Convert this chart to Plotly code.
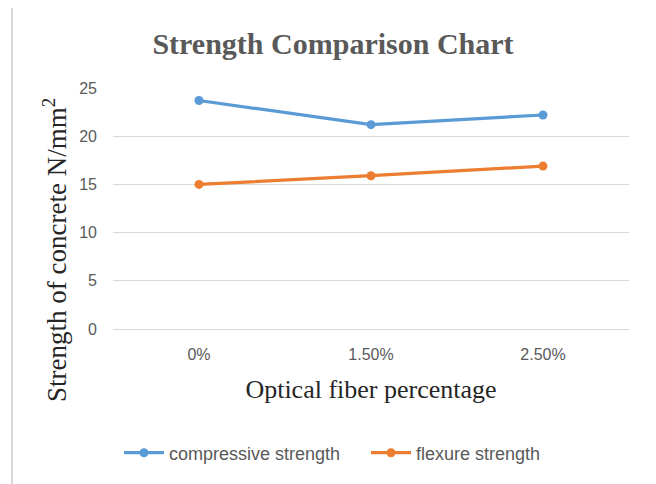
import plotly.graph_objects as go

categories = ["0%", "1.50%", "2.50%"]
compressive = [23.7, 21.2, 22.2]
flexure = [15.0, 15.9, 16.9]
y_ticks = [0, 5, 10, 15, 20, 25]

# the page places the figure 8px from the window's top-left corner
OFF = 8
W, H = 656 - OFF, 484 - OFF
L, R, T, B = 113 - OFF, 656 - 629, 88 - OFF, 484 - 329
pw, ph = W - L - R, H - T - B

def px_x(p):
    return (p - OFF - L) / pw

def px_y(p):
    return (H - B - (p - OFF)) / ph

fig = go.Figure()
fig.add_trace(go.Scatter(x=categories, y=compressive, name="compressive strength",
                         mode="lines+markers",
                         line=dict(color="#5B9BD5", width=3.2),
                         marker=dict(size=9, color="#5B9BD5")))
fig.add_trace(go.Scatter(x=categories, y=flexure, name="flexure strength",
                         mode="lines+markers",
                         line=dict(color="#ED7D31", width=3.2),
                         marker=dict(size=9, color="#ED7D31")))

fig.update_layout(
    width=W, height=H,
    margin=dict(l=L, r=R, t=T, b=B, autoexpand=False),
    paper_bgcolor="white", plot_bgcolor="white",
    title=dict(text="<b>Strength Comparison Chart</b>", x=(333 - OFF) / W, xanchor="center",
               y=1 - (43 - OFF) / H, yanchor="middle",
               font=dict(family="Liberation Serif", size=30, color="#595959")),
    xaxis=dict(type="category", range=[-0.5, 2.5], showgrid=False, zeroline=False,
               showline=False, ticks="", ticklabelstandoff=14, automargin=False,
               tickfont=dict(family="Liberation Sans", size=16, color="#595959"),
               title=dict(text="Optical fiber percentage", standoff=17,
                          font=dict(family="Liberation Serif", size=26, color="#262626"))),
    yaxis=dict(range=[0, 25], tickvals=y_ticks, showgrid=True, gridcolor="#D9D9D9",
               gridwidth=1, zeroline=True, zerolinecolor="#D9D9D9", zerolinewidth=1,
               showline=False, ticks="", ticklabelstandoff=15, automargin=False,
               tickfont=dict(family="Liberation Sans", size=16, color="#595959")),
    legend=dict(orientation="h", x=px_x(366), xanchor="center", y=px_y(453), yanchor="middle",
                font=dict(family="Liberation Sans", size=18, color="#595959"),
                itemwidth=40, entrywidth=192, tracegroupgap=0, bgcolor="rgba(0,0,0,0)"),
    showlegend=True,
)

fig.add_annotation(text="Strength of concrete N/mm<sup>2</sup>", textangle=-90,
                   xref="paper", yref="paper", x=px_x(55), y=px_y(250),
                   xanchor="center", yanchor="middle", showarrow=False,
                   font=dict(family="Liberation Serif", size=27, color="#262626"))

fig.add_shape(type="rect", xref="paper", yref="paper",
              x0=px_x(12), x1=px_x(653), y0=px_y(500), y1=px_y(6),
              line=dict(color="#D9D9D9", width=2), fillcolor="rgba(0,0,0,0)", layer="below")

fig.write_html("out.html")
